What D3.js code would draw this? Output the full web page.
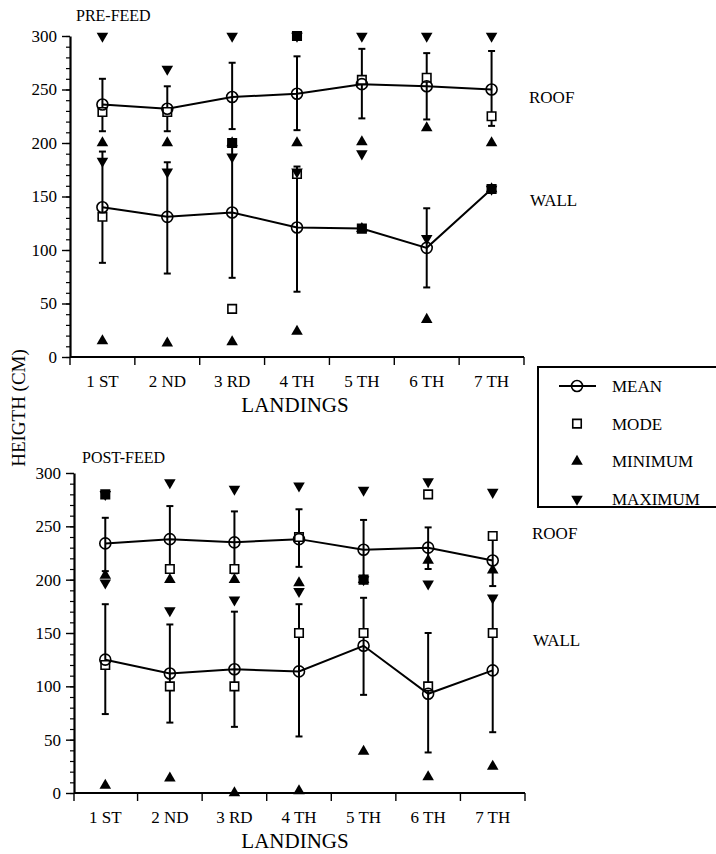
<!DOCTYPE html>
<html>
<head>
<meta charset="utf-8">
<script src="https://cdn.jsdelivr.net/npm/d3@7"></script>
<style>
  html, body { margin: 0; padding: 0; background: #fff; }
  svg { display: block; font-family: "Liberation Serif", "Times New Roman", serif; }
</style>
</head>
<body>
<svg id="chart" width="716" height="854"></svg>
<script>
// ---------- DATA ----------
const landings = ["1 ST", "2 ND", "3 RD", "4 TH", "5 TH", "6 TH", "7 TH"];
const yTicks = [0, 50, 100, 150, 200, 250, 300];
const legendLabels = ["MEAN", "MODE", "MINIMUM", "MAXIMUM"];

// PRE-FEED
const preRoofMean  = [236, 232, 243, 246, 255, 253, 250];
const preRoofUpper = [260, 253, 275, 281, 288, 284, 286];
const preRoofLower = [211, 211, 213, 212, 223, 222, 216];
const preRoofMode  = [229, 229, 200, 300, 259, 261, 225];
const preRoofMin   = [200, 200, 200, 200, 201, 214, 200];
const preRoofMax   = [300, 269, 300, 300, 300, 300, 300];

const preWallMean  = [140, 131, 135, 121, 120, 102, 157];
const preWallUpper = [192, 182, 198, 178, null, 139, null];
const preWallLower = [88, 78, 74, 61, null, 65, null];
const preWallMode  = [131, null, 45, 171, 120, null, 157];
const preWallMin   = [15, 13, 14, 24, 120, 35, 157];
const preWallMax   = [183, 173, 187, 173, 190, 111, 157];

// POST-FEED
const postRoofMean  = [234, 238, 235, 238, 228, 230, 218];
const postRoofUpper = [258, 269, 264, 266, 256, 249, 241];
const postRoofLower = [208, 210, 206, 212, 200, 210, 194];
const postRoofMode  = [280, 210, 210, 240, 200, 280, 241];
const postRoofMin   = [204, 200, 200, 197, 200, 218, 209];
const postRoofMax   = [280, 291, 285, 288, 284, 292, 282];

const postWallMean  = [125, 112, 116, 114, 138, 93, 115];
const postWallUpper = [177, 158, 170, 177, 183, 150, 183];
const postWallLower = [74, 66, 62, 53, 92, 38, 57];
const postWallMode  = [120, 100, 100, 150, 150, 100, 150];
const postWallMin   = [7, 14, 0, 2, 39, 15, 25];
const postWallMax   = [197, 171, 181, 189, 200, 196, 183];

// ---------- DRAWING ----------
const svg = d3.select("#chart");
const FONT = "'Liberation Serif', 'Times New Roman', serif";

function makeSeries(mean, upper, lower, mode, min, max) {
  return landings.map((l, i) => ({
    l, mean: mean[i], upper: upper[i], lower: lower[i],
    mode: mode[i], min: min[i], max: max[i]
  }));
}

function drawPanel(cfg) {
  const g = svg.append("g");
  const x = d3.scaleBand().domain(landings).range([cfg.x0, cfg.x1]).padding(0);
  const y = d3.scaleLinear().domain([0, 300]).range([cfg.yBottom, cfg.yTop]);
  const cx = d => x(d.l) + x.bandwidth() / 2;

  // minor y ticks
  const minor = g.append("g").attr("transform", `translate(${cfg.axisX},0)`)
    .call(d3.axisLeft(y).tickValues(d3.range(0, 301, 10)).tickSize(4).tickSizeOuter(0).tickFormat(""));
  minor.select(".domain").remove();
  minor.selectAll("line").attr("stroke", "#000").attr("stroke-width", 1.2);

  // major y ticks
  const major = g.append("g").attr("transform", `translate(${cfg.axisX},0)`)
    .call(d3.axisLeft(y).tickValues(yTicks).tickSize(8).tickSizeOuter(0).tickPadding(5));
  major.select(".domain").attr("stroke", "#000").attr("stroke-width", 2.2);
  major.selectAll("line").attr("stroke", "#000").attr("stroke-width", 1.4);
  major.selectAll("text").attr("font-family", FONT).attr("font-size", 17).attr("fill", "#000");

  // x axis line
  g.append("line").attr("x1", cfg.axisX).attr("x2", cfg.x1)
    .attr("y1", cfg.yBottom).attr("y2", cfg.yBottom)
    .attr("stroke", "#000").attr("stroke-width", 2.2);
  // boundary ticks
  const bounds = landings.map(l => x(l)).concat([cfg.x1]);
  bounds[0] = cfg.axisX;
  g.selectAll(".bt").data(bounds).join("line")
    .attr("x1", d => d).attr("x2", d => d)
    .attr("y1", cfg.yBottom).attr("y2", cfg.yBottom + 8)
    .attr("stroke", "#000").attr("stroke-width", 1.4);
  // x labels
  const xa = g.append("g").attr("transform", `translate(0,${cfg.yBottom})`)
    .call(d3.axisBottom(x).tickSize(0).tickPadding(cfg.labelPad));
  xa.select(".domain").remove();
  xa.selectAll("text").attr("font-family", FONT).attr("font-size", 17).attr("fill", "#000");

  g.append("text").attr("x", cfg.landingsX).attr("y", cfg.landingsY)
    .attr("text-anchor", "middle").attr("font-family", FONT).attr("font-size", 21)
    .text("LANDINGS");

  g.append("text").attr("x", cfg.titleX).attr("y", cfg.titleY)
    .attr("font-family", FONT).attr("font-size", 16).text(cfg.title);

  g.append("text").attr("x", cfg.roofX).attr("y", cfg.roofY)
    .attr("font-family", FONT).attr("font-size", 17).text("ROOF");
  g.append("text").attr("x", cfg.wallX).attr("y", cfg.wallY)
    .attr("font-family", FONT).attr("font-size", 17).text("WALL");

  const sq = d3.symbol().type(d3.symbolSquare).size(72);
  const tri = d3.symbol().type(d3.symbolTriangle).size(58);
  const line = d3.line().x(cx).y(d => y(d.mean));

  cfg.series.forEach(s => {
    const eb = s.filter(d => d.upper != null);
    // error bars
    g.selectAll(null).data(eb).join("line")
      .attr("x1", cx).attr("x2", cx)
      .attr("y1", d => y(d.upper)).attr("y2", d => y(d.lower))
      .attr("stroke", "#000").attr("stroke-width", 2);
    g.selectAll(null).data(eb.flatMap(d => [{d, v: d.upper}, {d, v: d.lower}])).join("line")
      .attr("x1", e => cx(e.d) - 3.5).attr("x2", e => cx(e.d) + 3.5)
      .attr("y1", e => y(e.v)).attr("y2", e => y(e.v))
      .attr("stroke", "#000").attr("stroke-width", 2);
    // mean line
    g.append("path").datum(s).attr("d", line)
      .attr("fill", "none").attr("stroke", "#000").attr("stroke-width", 2);
  });

  cfg.series.forEach(s => {
    // mode squares
    g.selectAll(null).data(s.filter(d => d.mode != null)).join("path")
      .attr("d", sq)
      .attr("transform", d => `translate(${cx(d)},${y(d.mode)})`)
      .attr("fill", d => (d.mode === d.min || d.mode === d.max) ? "#000" : "#fff")
      .attr("stroke", "#000").attr("stroke-width", 1.6);
  });

  cfg.series.forEach(s => {
    // minimum (up triangles)
    g.selectAll(null).data(s).join("path")
      .attr("d", tri)
      .attr("transform", d => `translate(${cx(d)},${y(d.min)})`)
      .attr("fill", "#000");
    // maximum (down triangles)
    g.selectAll(null).data(s).join("path")
      .attr("d", tri)
      .attr("transform", d => `translate(${cx(d)},${y(d.max)}) rotate(180)`)
      .attr("fill", "#000");
  });

  cfg.series.forEach(s => {
    // mean circles (drawn last, no fill so lines cross through)
    g.selectAll(null).data(s.filter(d => !(d.mean === d.mode && d.mode === d.min))).join("circle")
      .attr("cx", cx).attr("cy", d => y(d.mean)).attr("r", 5.5)
      .attr("fill", "none").attr("stroke", "#000").attr("stroke-width", 1.6);
  });
}

drawPanel({
  title: "PRE-FEED", titleX: 76, titleY: 21,
  x0: 70, x1: 524, axisX: 70, yTop: 36, yBottom: 357,
  labelPad: 18, landingsX: 295, landingsY: 412,
  roofX: 529, roofY: 103, wallX: 530, wallY: 206,
  series: [
    makeSeries(preRoofMean, preRoofUpper, preRoofLower, preRoofMode, preRoofMin, preRoofMax),
    makeSeries(preWallMean, preWallUpper, preWallLower, preWallMode, preWallMin, preWallMax)
  ]
});

drawPanel({
  title: "POST-FEED", titleX: 82, titleY: 463,
  x0: 73, x1: 525, axisX: 74, yTop: 473, yBottom: 793,
  labelPad: 18, landingsX: 295, landingsY: 848,
  roofX: 532, roofY: 539, wallX: 533, wallY: 646,
  series: [
    makeSeries(postRoofMean, postRoofUpper, postRoofLower, postRoofMode, postRoofMin, postRoofMax),
    makeSeries(postWallMean, postWallUpper, postWallLower, postWallMode, postWallMin, postWallMax)
  ]
});

// Y axis title
svg.append("text")
  .attr("transform", "translate(25,408) rotate(-90)")
  .attr("text-anchor", "middle").attr("font-family", FONT).attr("font-size", 19)
  .text("HEIGTH (CM)");

// Legend
const lg = svg.append("g");
lg.append("rect").attr("x", 538).attr("y", 367).attr("width", 200).attr("height", 140)
  .attr("fill", "none").attr("stroke", "#000").attr("stroke-width", 2);
const rowY = d3.scalePoint().domain(legendLabels).range([386, 499]);
lg.selectAll("text").data(legendLabels).join("text")
  .attr("x", 612).attr("y", d => rowY(d) + 6)
  .attr("font-family", FONT).attr("font-size", 17).text(d => d);
const lx = 577;
lg.append("line").attr("x1", 559).attr("x2", 596).attr("y1", rowY("MEAN")).attr("y2", rowY("MEAN"))
  .attr("stroke", "#000").attr("stroke-width", 2);
lg.append("circle").attr("cx", lx).attr("cy", rowY("MEAN")).attr("r", 5.5)
  .attr("fill", "none").attr("stroke", "#000").attr("stroke-width", 1.6);
lg.append("path").attr("d", d3.symbol().type(d3.symbolSquare).size(72))
  .attr("transform", `translate(${lx},${rowY("MODE")})`)
  .attr("fill", "#fff").attr("stroke", "#000").attr("stroke-width", 1.6);
lg.append("path").attr("d", d3.symbol().type(d3.symbolTriangle).size(58))
  .attr("transform", `translate(${lx},${rowY("MINIMUM")})`).attr("fill", "#000");
lg.append("path").attr("d", d3.symbol().type(d3.symbolTriangle).size(58))
  .attr("transform", `translate(${lx},${rowY("MAXIMUM")}) rotate(180)`).attr("fill", "#000");
</script>
</body>
</html>
